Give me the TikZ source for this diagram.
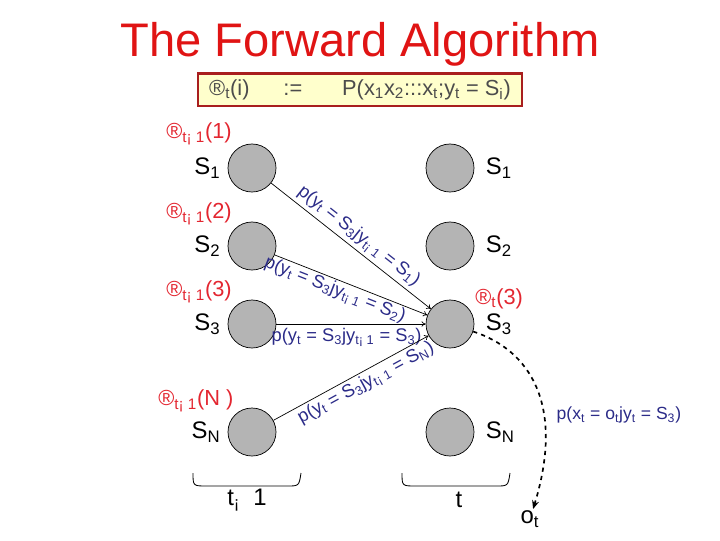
\documentclass[tikz,border=0pt]{standalone}
\usepackage{fontspec}
\setmainfont{Liberation Sans}
\usepackage{tikz}
\usetikzlibrary{arrows.meta,positioning}

\definecolor{titlered}{HTML}{E01414}
\definecolor{alphared}{HTML}{E32630}
\definecolor{probblue}{HTML}{2B2B88}
\definecolor{boxfill}{HTML}{FFFFCC}
\definecolor{boxline}{HTML}{A81E1E}
\definecolor{stategray}{HTML}{B4B4B4}

\newcommand{\low}[1]{\textsubscript{#1}}

\begin{document}
\begin{tikzpicture}[x=0.025cm, y=-0.025cm, >={To[length=3pt,width=4pt]},
  hmmstate/.style={circle, draw, line width=0.5pt, fill=stategray, minimum size=1.2cm, inner sep=0pt},
  slabel/.style={font=\fontsize{17}{19}\selectfont, inner sep=1pt},
  alphalbl/.style={font=\fontsize{15.5}{17}\selectfont, text=alphared, inner sep=0pt},
  prob/.style={font=\fontsize{13}{15}\selectfont, text=probblue, inner sep=1pt},
  trans/.style={->, line width=0.5pt}]
\path[use as bounding box] (0,0) rectangle (720,540);
\node[font=\fontsize{33.5}{37}\selectfont, text=titlered] (title) at (360,44) {The Forward Algorithm};
\node[draw=boxline, line width=2pt, fill=boxfill, minimum width=8.1cm, minimum height=0.82cm,
      font=\fontsize{15.5}{17}\selectfont, text=black!70] (defbox) at (360,89.5)
      {®\low{t}(i)\quad\ \ :=\quad\ \ \ P(x\low{1}x\low{2}:::x\low{t};y\low{t} = S\low{i})};
% time t-1
\node[hmmstate] (L1) at (252,168) {};
\node[hmmstate] (L2) at (252,246) {};
\node[hmmstate] (L3) at (252,324) {};
\node[hmmstate] (LN) at (252,432) {};
\node[slabel, left=4pt of L1] (sl1) {S\low{1}};
\node[slabel, left=4pt of L2] (sl2) {S\low{2}};
\node[slabel, left=4pt of L3] (sl3) {S\low{3}};
\node[slabel, left=4pt of LN] (slN) {S\low{N}};
\node[alphalbl, anchor=west] (a1) at (166,134) {®\low{t¡ 1}(1)};
\node[alphalbl, anchor=west] (a2) at (166,214) {®\low{t¡ 1}(2)};
\node[alphalbl, anchor=west] (a3) at (166,292) {®\low{t¡ 1}(3)};
\node[alphalbl, anchor=west] (aN) at (158,401) {®\low{t¡ 1}(N )};
% time t
\node[hmmstate] (R1) at (450,168) {};
\node[hmmstate] (R2) at (450,246) {};
\node[hmmstate] (R3) at (450,324) {};
\node[hmmstate] (RN) at (450,432) {};
\node[slabel, right=7pt of R1] (sr1) {S\low{1}};
\node[slabel, right=7pt of R2] (sr2) {S\low{2}};
\node[slabel, right=7pt of R3] (sr3) {S\low{3}};
\node[slabel, right=7pt of RN] (srN) {S\low{N}};
\node[alphalbl, anchor=west] (at3) at (475,299) {®\low{t}(3)};
% transitions into S3
\draw[trans] (L1) -- (R3) node[midway, sloped, above=1pt, prob] {p(y\low{t} = S\low{3}jy\low{t¡ 1} = S\low{1})};
\draw[trans] (L2) -- (R3) node[pos=0.42, sloped, below=0pt, prob] {p(y\low{t} = S\low{3}jy\low{t¡ 1} = S\low{2})};
\draw[trans] (L3) -- (R3) node[pos=0.47, below=2pt, prob] {p(y\low{t} = S\low{3}jy\low{t¡ 1} = S\low{3})};
\draw[trans] (LN) -- (R3) node[pos=0.56, sloped, below=1pt, prob] {p(y\low{t} = S\low{3}jy\low{t¡ 1} = S\low{N})};
% emission
\node[font=\fontsize{17}{19}\selectfont, inner sep=1pt] (ot) at (530,519) {o\low{t}};
\draw[->, dashed, line width=1.2pt, >={Stealth[length=6pt,width=5pt]}] (R3) .. controls (530,350) and (565,405) .. (ot);
\node[prob, anchor=west, font=\fontsize{12.5}{14}\selectfont] (emit) at (555,415) {p(x\low{t} = o\low{t}jy\low{t} = S\low{3})};
% time brackets
\draw[line width=0.6pt] (193,473) .. controls (193,486) .. (207,486) -- (287,486) .. controls (299,486) .. (301,473);
\draw[line width=0.6pt] (402,473) .. controls (402,486) .. (416,486) -- (496,486) .. controls (508,486) .. (510,473);
\node[slabel] (tprev) at (247,500) {t\low{¡} \ 1};
\node[slabel] (tnow) at (459,500) {t};
\end{tikzpicture}
\end{document}
